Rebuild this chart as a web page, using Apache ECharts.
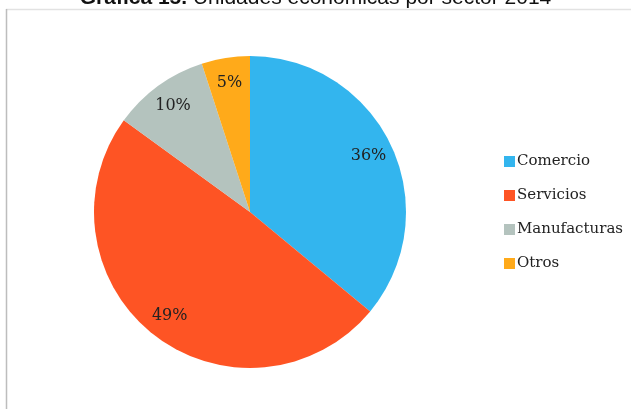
<!DOCTYPE html>
<html>
<head>
<meta charset="utf-8">
<script src="https://cdn.jsdelivr.net/npm/echarts@6/dist/echarts.min.js"></script>
<style>
  html, body { margin: 0; padding: 0; background: #fff; }
  #chart { width: 631px; height: 409px; }
</style>
</head>
<body>
<div id="chart"></div>
<script>
const sectores = ['Comercio', 'Servicios', 'Manufacturas', 'Otros'];
const porcentajes = [36, 49, 10, 5];
const colores = ['#33b5ee', '#fe5424', '#b4c3be', '#ffaa1a'];

const chart = echarts.init(document.getElementById('chart'));

const datos = sectores.map((s, i) => ({
  name: s,
  value: porcentajes[i],
  itemStyle: { color: colores[i] }
}));

const option = {
  animation: false,
  title: {
    text: '{b|Gráfica 15.} Unidades económicas por sector 2014',
    left: 'center',
    top: -17,
    textStyle: {
      fontFamily: 'Liberation Sans',
      fontSize: 21,
      fontWeight: 'normal',
      color: '#111',
      rich: {
        b: { fontFamily: 'Liberation Sans', fontSize: 21, fontWeight: 'bold', color: '#111' }
      }
    }
  },
  graphic: [
    {
      type: 'line',
      shape: { x1: 6, y1: 9.5, x2: 631, y2: 9.5 },
      style: { stroke: '#e2e2e2', lineWidth: 1.5 }
    },
    {
      type: 'line',
      shape: { x1: 6.5, y1: 9, x2: 6.5, y2: 409 },
      style: { stroke: '#bdbdbd', lineWidth: 1.5 }
    }
  ],
  legend: {
    orient: 'vertical',
    left: 499,
    top: 149,
    itemWidth: 11,
    itemHeight: 11,
    itemGap: 19,
    icon: 'rect',
    data: sectores,
    textStyle: { fontFamily: 'DejaVu Serif', fontSize: 15, color: '#222', padding: [0, 0, 0, -3] }
  },
  series: [
    {
      type: 'pie',
      center: [250, 212],
      radius: [0, 156],
      startAngle: 90,
      clockwise: true,
      label: { show: false },
      labelLine: { show: false },
      data: datos
    },
    {
      type: 'pie',
      center: [250, 212],
      radius: [100, 156],
      startAngle: 90,
      clockwise: true,
      silent: true,
      z: 5,
      itemStyle: { color: 'transparent' },
      label: {
        show: true,
        position: 'inside',
        formatter: '{c}%',
        fontFamily: 'DejaVu Serif',
        fontSize: 16,
        color: '#222'
      },
      labelLine: { show: false },
      data: sectores.map((s, i) => ({ name: s, value: porcentajes[i], itemStyle: { color: 'transparent' } }))
    }
  ]
};

chart.setOption(option);
</script>
</body>
</html>
